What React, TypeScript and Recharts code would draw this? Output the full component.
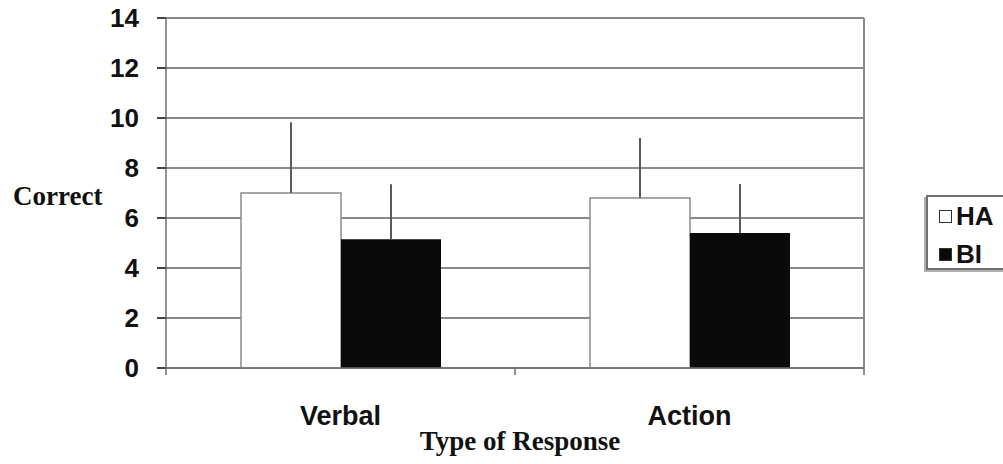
import { BarChart, Bar, XAxis, YAxis, CartesianGrid, ErrorBar, Legend, Label } from 'recharts';

const categories = ['Verbal', 'Action'];
const haMeans = [7.0, 6.8];
const biMeans = [5.15, 5.4];
const haErrors = [2.83, 2.4];
const biErrors = [2.2, 1.96];
const yTicks = [0, 2, 4, 6, 8, 10, 12, 14];

const data = categories.map((name, i) => ({
  name,
  HA: haMeans[i],
  BI: biMeans[i],
  haErr: [0, haErrors[i]],
  biErr: [0, biErrors[i]],
}));

const WIDTH = 1003;
const HEIGHT = 464;
const MARGIN = { top: 18, right: 138, bottom: 0, left: 0 };
const Y_AXIS_WIDTH = 166;
const GRID = '#8a8a8a';
const AXIS = '#6f6f6f';
const SANS = '"Liberation Sans", Arial, sans-serif';
const SERIF = '"Liberation Serif", "Times New Roman", serif';

const plotWidth = WIDTH - MARGIN.left - MARGIN.right - Y_AXIS_WIDTH - 1;
const halfBand = plotWidth / categories.length / 2;

function CategoryTick(props: any) {
  const { x, y, payload, index } = props;
  const left = x - halfBand;
  const right = x + halfBand;
  return (
    <g>
      <line x1={left} y1={y - 1} x2={left} y2={y + 7} stroke={AXIS} strokeWidth={1.5} />
      {index === categories.length - 1 && (
        <line x1={right} y1={y - 1} x2={right} y2={y + 7} stroke={AXIS} strokeWidth={1.5} />
      )}
      <text
        x={x}
        y={y + 57}
        textAnchor="middle"
        fontFamily={SANS}
        fontWeight="bold"
        fontSize={27}
        fill="#111"
      >
        {payload.value}
      </text>
    </g>
  );
}

function LegendBox() {
  const items = [
    { name: 'HA', fill: '#fff' },
    { name: 'BI', fill: '#0a0a0a' },
  ];
  return (
    <div
      style={{
        width: 80,
        height: 75,
        border: `2px solid ${AXIS}`,
        boxShadow: '-2px 2px 0 #b0b0b0',
        background: '#fff',
        boxSizing: 'border-box',
        paddingLeft: 11,
        paddingTop: 6,
      }}
    >
      {items.map((it, i) => (
        <div
          key={it.name}
          style={{ display: 'flex', alignItems: 'center', height: 27, marginTop: i === 0 ? 0 : 11 }}
        >
          <span
            style={{
              width: 13,
              height: 13,
              flex: 'none',
              background: it.fill,
              border: '1.5px solid #333',
              boxSizing: 'border-box',
              marginRight: 4,
            }}
          />
          <span style={{ fontFamily: SANS, fontWeight: 'bold', fontSize: 26, color: '#111', lineHeight: '27px' }}>
            {it.name}
          </span>
        </div>
      ))}
    </div>
  );
}

export default function App() {
  return (
    <div style={{ position: 'absolute', left: 0, top: 0, width: WIDTH, height: HEIGHT, background: '#fff' }}>
      <BarChart width={WIDTH} height={HEIGHT} data={data} margin={MARGIN} barSize={100} barGap={0}>
        <CartesianGrid vertical={false} stroke={GRID} strokeWidth={2} />
        <XAxis
          dataKey="name"
          height={96}
          axisLine={{ stroke: AXIS, strokeWidth: 1.5 }}
          tickLine={false}
          tick={<CategoryTick />}
          tickMargin={0}
          tickSize={0}
          interval={0}
        >
          <Label
            value="Type of Response"
            position="insideBottom"
            offset={14}
            dx={5}
            fontFamily={SERIF}
            fontWeight="bold"
            fontSize={27}
            fill="#111"
          />
        </XAxis>
        <YAxis
          width={Y_AXIS_WIDTH}
          domain={[0, 14]}
          ticks={yTicks}
          interval={0}
          axisLine={{ stroke: AXIS, strokeWidth: 1.5 }}
          tickLine={{ stroke: '#444', strokeWidth: 2 }}
          tickSize={9}
          tickMargin={18}
          tick={{ fontFamily: SANS, fontWeight: 'bold', fontSize: 26, fill: '#111' }}
        >
          <Label
            value="Correct"
            position="insideLeft"
            offset={13}
            dy={2}
            fontFamily={SERIF}
            fontWeight="bold"
            fontSize={27}
            fill="#111"
          />
        </YAxis>
        <YAxis
          yAxisId="frame"
          orientation="right"
          width={1}
          domain={[0, 14]}
          tick={false}
          tickLine={false}
          axisLine={{ stroke: GRID, strokeWidth: 2 }}
        />
        <Legend
          layout="horizontal"
          align="center"
          verticalAlign="middle"
          content={<LegendBox />}
          wrapperStyle={{ left: 926, top: 195, width: 80, height: 75 }}
        />
        <Bar dataKey="HA" fill="#fff" stroke="#8a8a8a" strokeWidth={1.5} isAnimationActive={false}>
          <ErrorBar dataKey="haErr" direction="y" width={0} stroke="#5a5a5a" strokeWidth={2} />
        </Bar>
        <Bar dataKey="BI" fill="#0a0a0a" isAnimationActive={false}>
          <ErrorBar dataKey="biErr" direction="y" width={0} stroke="#5a5a5a" strokeWidth={2} />
        </Bar>
      </BarChart>
    </div>
  );
}
